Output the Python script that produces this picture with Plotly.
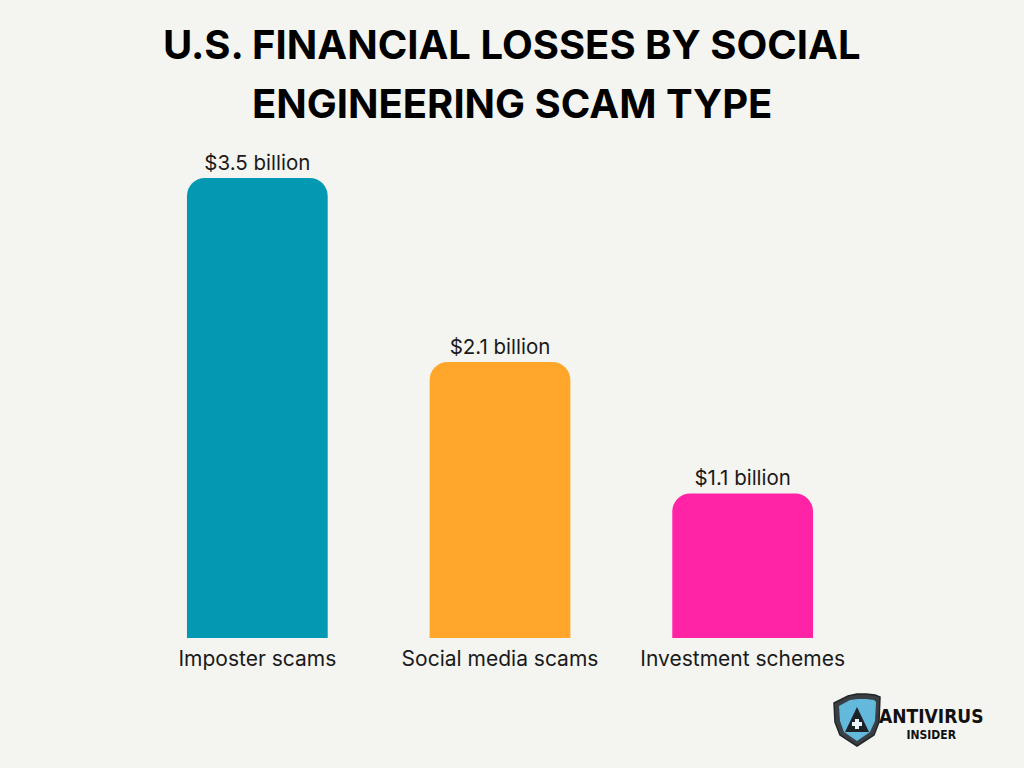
import plotly.graph_objects as go

categories = ["Imposter scams", "Social media scams", "Investment schemes"]
values = [3.5, 2.1, 1.1]
value_labels = ["$3.5 billion", "$2.1 billion", "$1.1 billion"]
colors = ["#0499B3", "#FFA62B", "#FF24A5"]
title_lines = ["U.S. FINANCIAL LOSSES BY SOCIAL", "ENGINEERING SCAM TYPE"]

BG = "#F4F4F0"

fig = go.Figure()
fig.add_trace(go.Bar(
    x=categories, y=values,
    marker=dict(color=colors, cornerradius=18, line=dict(width=0)),
    width=0.58,
    text=value_labels, textposition="outside", cliponaxis=False,
    constraintext="none",
    outsidetextfont=dict(family="Inter", size=20.5, color="#1a1a1a"),
    hoverinfo="skip",
))

fig.update_layout(
    width=1024, height=768,
    paper_bgcolor=BG, plot_bgcolor=BG,
    margin=dict(l=136, r=160, t=150, b=130),
    showlegend=False,
    xaxis=dict(range=[-0.5, 2.5], showgrid=False, zeroline=False, showline=False,
               ticks="", tickfont=dict(family="Inter", size=21, color="#1a1a1a"),
               ticklabelstandoff=6, fixedrange=True),
    yaxis=dict(range=[0, 488/131.43], visible=False, fixedrange=True),
)


def to_paper(x, y):
    return (x - 136) / 728, (638 - y) / 488


def poly(pts):
    return "M " + " L ".join(f"{to_paper(x, y)[0]:.5f},{to_paper(x, y)[1]:.5f}" for x, y in pts) + " Z"


# Title as two lines
for line, ypx in zip(title_lines, [44, 103]):
    tx, ty = to_paper(512, ypx)
    fig.add_annotation(x=tx, y=ty, xref="paper", yref="paper", text=f"<b>{line}</b>",
                       showarrow=False, xanchor="center", yanchor="middle",
                       font=dict(family="Inter", size=40, color="#000000", weight=900))

# Logo approximation (shield + text)
outer = [(834, 703), (848, 696), (857, 694), (866, 694), (875, 695), (880, 697),
         (879, 722), (874, 735), (857, 746), (840, 735), (835, 722)]
fig.add_shape(type="path", xref="paper", yref="paper", path=poly(outer),
              fillcolor="#3a3f44", line=dict(color="#22262a", width=1.5))
inner = [(839, 706), (850, 700), (858, 699), (866, 699), (874, 700), (876, 702),
         (875, 721), (870, 732), (857, 741), (844, 732), (840, 721)]
fig.add_shape(type="path", xref="paper", yref="paper", path=poly(inner),
              fillcolor="#63b9dc", line=dict(width=0))
tri = [(857, 707), (869, 732), (845, 732)]
fig.add_shape(type="path", xref="paper", yref="paper", path=poly(tri),
              fillcolor="#1d2226", line=dict(width=0))
plus = [(855, 719), (859, 719), (859, 722), (862, 722), (862, 726), (859, 726),
        (859, 729), (855, 729), (855, 726), (852, 726), (852, 722), (855, 722)]
fig.add_shape(type="path", xref="paper", yref="paper", path=poly(plus),
              fillcolor="#e8f4fa", line=dict(width=0))

lx, ly = to_paper(932, 723)
fig.add_annotation(x=lx, y=ly, xref="paper", yref="paper",
                   text="<span style='font-size:19px'><b>ANTIVIRUS</b></span><br><b>INSIDER</b>",
                   showarrow=False, xanchor="center", yanchor="middle", align="center",
                   font=dict(family="DejaVu Sans Condensed", size=12, color="#111111"))

fig.write_html("out.html")
